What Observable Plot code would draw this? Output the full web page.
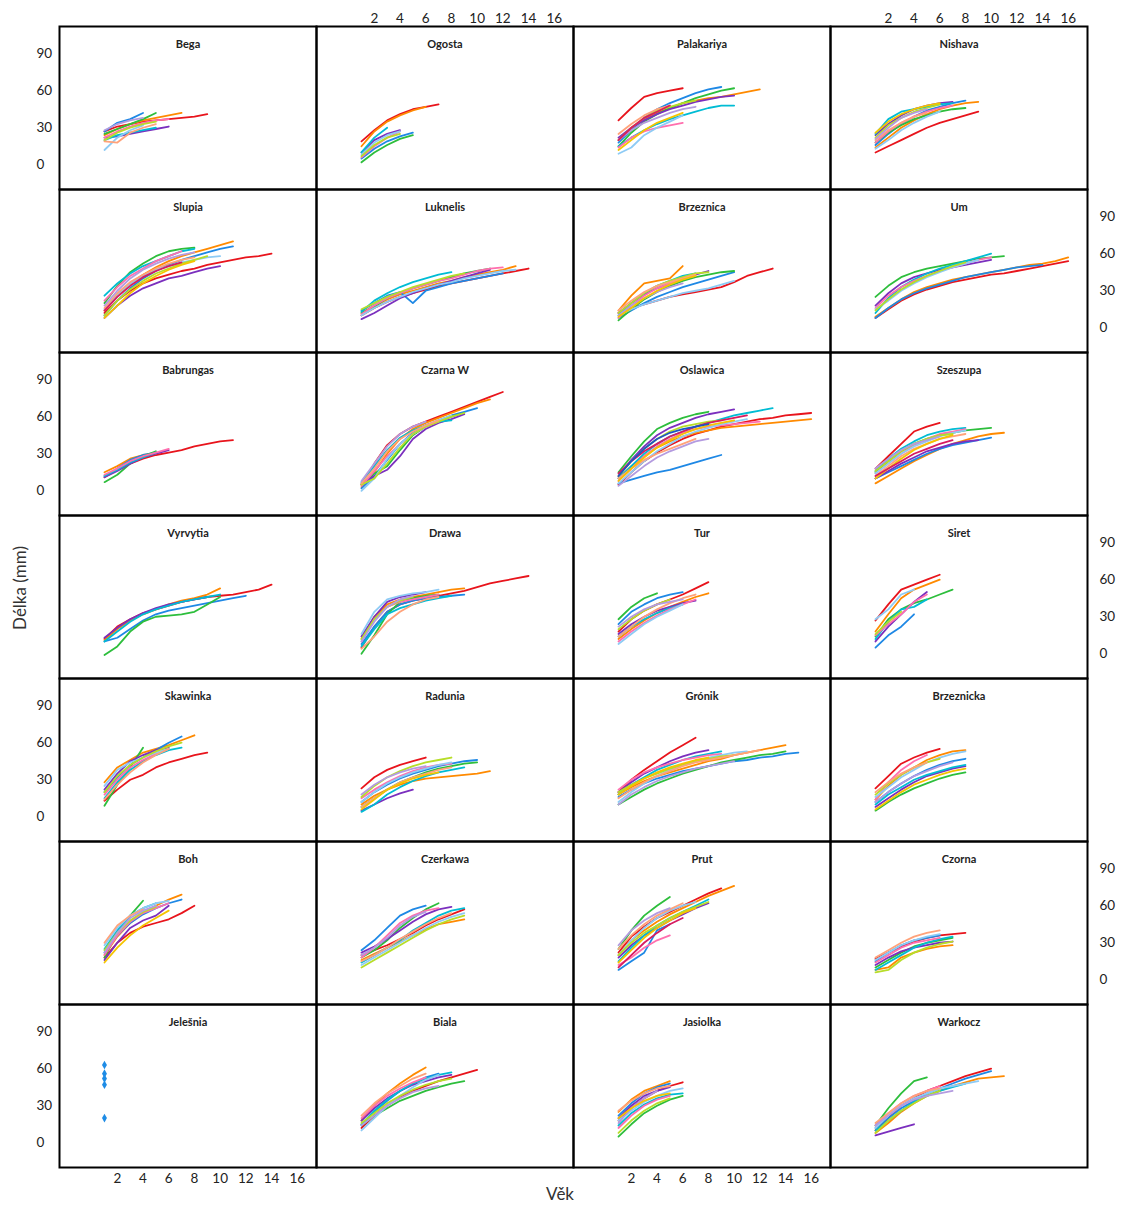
<!DOCTYPE html>
<html>
<head>
<meta charset="utf-8">
<script src="https://cdn.jsdelivr.net/npm/d3@7"></script>
<script src="https://cdn.jsdelivr.net/npm/@observablehq/plot@0.6"></script>
<style>
  html, body { margin: 0; padding: 0; background: #fff; }
  #wrap { position: relative; width: 1123px; height: 1209px; font-family: Lato, "Open Sans", sans-serif; }
  .axlab { position: absolute; font-size: 17px; line-height: 20px; color: #333; white-space: nowrap; }
  #ylab { left: 20px; top: 588px; transform: translate(-50%, -50%) rotate(-90deg); }
  #xlab { left: 560px; top: 1194px; transform: translate(-50%, -50%); }
</style>
</head>
<body>
<div id="wrap">
  <div id="chart"></div>
  <div class="axlab" id="ylab">Délka (mm)</div>
  <div class="axlab" id="xlab">Věk</div>
</div>
<script>
// ---- panel names (row-major, 7 rows x 4 columns) ----
const panelNames = [
  "Bega", "Ogosta", "Palakariya", "Nishava",
  "Slupia", "Luknelis", "Brzeznica", "Um",
  "Babrungas", "Czarna W", "Oslawica", "Szeszupa",
  "Vyrvytia", "Drawa", "Tur", "Siret",
  "Skawinka", "Radunia", "Grónik", "Brzeznicka",
  "Boh", "Czerkawa", "Prut", "Czorna",
  "Jelešnia", "Biala", "Jasiolka", "Warkocz"
];

// ---- tick labels ----
const xTicks = [2, 4, 6, 8, 10, 12, 14, 16];
const yTicks = [0, 30, 60, 90];

// ---- growth curves: length (mm) at age 1, 2, 3, ... ----
const bega = [[27,31,33,35,36,37,38,39,41],[24,29,33,36,38,40,42],[27,34,37,42],[25,29,33,37,42],[22,23,25,27,29,31],[20,24,26,28,30],[22,27,31,34,36,37],[12,22,28,32],[20,26,30,33,35],[19,18,26,30,33],[28,33,36,38]];
const ogosta = [[19,28,36,41,45,47,49],[15,27,35,40,44,47],[5,13,19,23,26],[2,10,16,21,24],[10,20,25,28],[10,22,30],[6,15,22,27],[8,18,24,27],[7,16,22,25]];
const palakariya = [[36,46,55,58,60,62],[20,30,37,42,46,50,52,54,55,57,59,61],[18,28,38,45,50,54,58,61,63],[15,26,35,41,46,50,54,57,60,62],[22,30,36,41,45,48,51,53,55,56],[15,22,28,33,37,40,43,46,48,48],[14,22,27,30,32,34],[9,14,24,30,35,40],[20,30,38,44,47,50,52],[25,33,40,45,48],[20,28,34,38,42,45,47],[12,20,28,34,38,42],[20,30,38,43,48]];
const nishava = [[10,15,20,25,30,34,37,40,43],[14,22,30,36,41,45,48,50,51],[16,25,33,39,44,47,50,52],[18,26,32,37,40,43,45,46],[24,33,40,45,48,50,51],[25,37,43,45,47,49,50],[18,27,34,39,43,46,48],[13,20,28,34,39,43],[22,32,38,43,46,49],[20,28,34,39,42],[21,30,38,42,45],[26,35,41,45,48,50]];
const slupia = [[12,22,30,36,40,43,46,48,51,53,55,57,58,60],[14,26,36,43,49,54,58,61,64,67,70],[10,22,32,40,46,51,55,58,61,64,66],[20,34,45,52,58,62,64,65],[8,18,26,32,36,40,42,45,48,50],[26,36,44,50,54,58,62,64],[22,33,42,48,54,58,62],[15,27,36,42,47,50,53,55,57,58],[10,22,31,38,44,48,52,55,58],[16,28,37,43,48,52,55,57],[18,30,40,47,52,56,59,61],[8,18,28,36,42,47,51,54],[14,25,34,41,46,50,53]];
const luknelis = [[10,16,21,25,28,31,34,36,38,40,42,44,46,48],[12,18,23,27,30,33,36,38,41,43,45,47,50],[14,20,26,29,20,30,33,36,38,40,42,44],[12,17,24,28,32,35,38,41,44,46,48],[7,12,18,24,28,32,35,38,41,44,47],[13,22,28,33,37,40,43,45],[11,18,24,28,32,35,38,40,43,46,48,49],[10,16,21,25,29,32,35,37,40,42,44,46,47],[15,20,25,29,33,36,39,42,44]];
const brzeznica = [[12,16,19,22,25,27,29,31,33,37,42,45,48],[14,26,36,38,40,50],[8,14,20,25,29,33,36,39,42,45],[6,15,23,29,34,38,41,43,45,46],[12,20,27,32,36,40,43,46],[10,20,28,34,38,42,44],[8,18,26,32,36,40,42],[10,15,19,22,25,28,30,32,35,38],[12,20,28,34,38,41,44,45],[14,22,29,34,37,40,43],[10,18,24,29,33,36],[9,16,24,30,35,39,42]];
const um = [[8,15,22,27,31,34,37,39,41,43,44,46,48,50,52,54],[9,16,23,29,33,36,39,41,43,45,47,49,51,52,54,57],[8,16,23,28,32,35,38,41,43,45,47,49,50,51],[25,34,41,45,48,50,52,54,56,57,58],[18,28,36,41,44,47,49,51,53,55],[12,24,33,39,44,48,51,54,57,60],[16,26,33,38,42,46,49,52,55,57],[15,22,30,36,41,45,49,52,55],[14,23,31,37,42,46,50,53]];
const babrungas = [[11,17,22,26,29,31,33,36,38,40,41],[15,20,26,29,30],[12,18,25,29,31],[7,13,22,28,32],[11,16,22,27,30,33],[12,17,23,27,31],[13,18,24,28,31,34]];
const czarnaW = [[5,22,37,46,52,56,60,64,68,72,76,80],[3,15,30,42,50,55,59,63,67,71,74],[2,12,25,38,47,53,57,61,64,67],[5,14,20,33,45,52,56,60,63],[6,12,17,28,42,50,55,58,62],[7,20,33,43,49,53,56,57],[4,16,28,38,46,52,56],[0,10,26,38,46,52,57,61],[5,10,22,35,46,52,56,60,63],[6,18,32,42,48,53,57],[8,22,36,46,52,56]];
const oslawica = [[5,15,24,31,37,42,46,49,52,54,56,58,59,61,62,63],[10,20,28,35,40,44,47,49,51,52,53,54,55,56,57,58],[6,9,12,15,17,20,23,26,29],[15,28,40,50,55,59,62,64],[12,25,36,45,51,55,59,62,64,66],[10,20,30,38,44,48,52,55,58,61,63,65,67],[8,18,28,36,42,47,50,52,53,54,55,56],[6,15,24,32,38,44,48,51,54,56,58],[12,24,34,42,48,52,54,56,57],[10,18,25,30,34,38,42],[4,12,20,27,32,36,40,42],[8,18,27,35,41,46,50,53,55,57],[14,24,32,38,44,48,52,55,57,59,61],[12,24,34,42,47,50,52,54]];
const szeszupa = [[18,28,38,48,52,55],[6,12,18,24,29,34,38,41,44,46,47],[10,15,20,25,30,34,37,39,41,43],[15,24,32,38,42,45,47,49,50,51],[10,16,22,27,32,35,38,40,41],[16,26,34,40,45,48,50,51],[14,22,30,37,42,46,48,50],[14,22,30,36,40,44,47,49],[16,24,32,38,42,45,46],[12,20,28,34,38,42,44,46],[18,26,33,38,41,44],[10,18,26,33,38,42,45],[12,18,24,30,34,38,41]];
const vyrvytia = [[12,22,28,33,36,39,42,44,46,47,48,50,52,56],[11,20,27,32,36,40,43,45,48,53],[10,13,20,27,32,35,37,39,41,43,45,47],[-1,6,18,26,30,31,32,34,40,46],[13,21,28,33,37,40,42,44,46],[10,18,26,32,36,39,42,44,46,48]];
const drawa = [[5,22,34,40,43,45,47,49,51,54,57,59,61,63],[12,30,40,44,46,48,50,52,53],[8,22,34,40,43,45,46,47,48],[0,15,32,42,45,47,48],[14,30,42,46,48,50],[6,20,32,37,40,43,45,47],[10,28,38,42,44,46,48],[16,34,44,47,49,50,52],[12,28,38,43,46],[4,14,26,34,40,44,46],[10,26,38,44,47]];
const tur = [[18,28,35,40,44,48,53,58],[12,20,27,33,38,42,46,49],[24,34,40,45,48,50],[28,38,45,49],[16,24,30,35,38,41,43],[14,22,28,33,37,40],[10,18,25,31,36,40,44],[8,16,24,30,35,40],[20,28,35,40,44],[14,22,30,36,41,45,48],[22,30,36,40,42,44]];
const siret = [[27,40,52,56,60,64],[18,32,45,52,56,60],[5,15,22,32],[14,28,36,41,44,48,52],[10,22,32,42,50],[12,26,36,38,44],[15,24,32,42,48],[28,36,48,52],[16,26,34]];
const skawinka = [[13,22,30,34,40,44,47,50,52],[28,40,46,52,55,58,62,66],[20,32,42,48,54,60,65],[9,26,40,56],[22,35,45,50,54,56],[15,28,38,45,50,54,56],[18,30,40,46,51,55],[25,38,44,48,52,55],[20,33,42,48,53,57,60],[14,26,36,44,50,55]];
const radunia = [[23,32,38,42,45,48],[10,17,22,26,29,31,32,33,34,35,37],[12,20,26,31,35,38,41,43,45,46],[8,15,22,28,32,36,39,41,43,44],[5,10,15,19,22],[4,10,18,24,29,33,36,38,40],[15,22,28,33,37,40,42,43],[12,20,27,32,36,39,42,44],[16,25,32,37,41,44,46,48],[8,15,22,28,32,35,38,40],[18,26,32,36,39,41],[6,14,22,27,31,34,36]];
const gronik = [[20,30,38,45,52,58,64],[18,24,29,33,36,39,42,45,47,50,52,54,56,58],[16,22,27,31,34,37,39,41,43,45,46,48,49,51,52],[10,16,22,27,31,35,38,41,44,46,48,50,51,53],[20,28,35,40,45,49,52,54],[18,26,32,38,42,46,49,51,53],[22,30,36,40,43,46,48,50,51],[12,20,27,33,38,42,45,48,50,52,53],[20,26,31,35,39,42,45,47,49,50],[15,22,28,33,37,41,44,46,48,50,52,54],[10,18,24,29,33,36,39,41,43,45],[18,25,31,36,40,43,46,48]];
const brzeznicka = [[23,33,43,48,52,55],[14,25,34,40,46,50,53,54],[12,20,27,33,38,42,45,47],[5,12,18,23,27,31,34,36],[8,15,22,28,33,36,39,41],[10,18,24,30,34,37,40,42],[14,28,38,45,50],[16,24,32,38,44,48,51,53],[18,27,34,40,44,47],[20,28,35,40,44],[12,20,27,33,37,41,44],[6,13,20,26,30,34,37,39]];
const boh = [[18,30,38,43,46,49,54,60],[20,35,46,54,60,65,69],[22,36,46,53,58,62,65],[18,38,52,64],[16,30,42,48,52,60],[25,40,52,58,62],[20,36,47,54,58,62],[28,42,52,58,62,64],[24,38,48,55,59],[30,44,52,57],[22,38,50,56,60],[14,26,36,44,50,56]];
const czerkawa = [[20,24,28,33,38,44,49,53,57],[16,21,26,31,36,41,45,47,49],[24,32,42,52,57,60],[18,24,32,42,50,57,62],[22,27,33,40,47,53,57,59],[14,20,26,32,40,46,52,56,58],[18,26,36,46,52,56,58],[12,18,24,30,36,42,47,51,54],[10,16,22,28,34,40,45,49,52],[15,20,26,33,39,45,50,54],[20,26,34,44,51,55]];
const prut = [[22,35,43,50,55,60,65,70,74],[20,32,40,47,53,58,63,68,72,76],[8,15,22,40,45],[25,40,52,60,67],[18,28,36,42,48,53,58,62],[15,26,36,44,50,55,60,65],[12,18,26,32,36],[20,32,42,50,56,60,63],[20,30,38,44,50,55,59,63],[25,36,45,52,57,62],[28,40,48,54,58],[14,24,34,42,48,54,58],[10,20,30,38,45,50]];
const czorna = [[17,22,27,31,34,36,37,38],[8,10,18,22,25,27,28],[15,22,28,32,34,36],[10,16,22,27,30,32,34],[12,18,23,26,28,30,31],[8,14,20,26,30,33,35],[14,20,26,30,32,34],[16,22,28,32,35,37],[6,8,16,22,26,29,31],[18,24,30,35,38,40]];
const jelesnia = [];
const biala = [[12,22,30,37,42,46,50,53,56,59],[18,30,40,48,55,61],[15,25,34,42,48,53,56],[14,22,28,34,38,42,45,48,50],[18,28,36,42,47,50,53,55],[15,26,35,42,48,52,55,57],[20,30,38,44,49,53],[10,20,30,38,45,51,55],[16,24,32,38,43,47,50,52],[22,32,40,46,52,56],[14,22,30,36,41,44,46]];
const jasiolka = [[18,28,36,42,46,49],[25,35,42,46,50],[22,32,40,45,48],[5,15,24,30,35,38],[20,30,38,42,45],[14,24,31,36,39,40],[12,22,30,35,38],[18,26,33,38,42,44],[8,18,26,32,36],[26,34,40,44,46],[16,28,36,42],[20,28,34,38,40]];
const warkocz = [[10,20,30,36,42,46,50,54,57,60],[8,16,25,32,38,42,46,49,52,53,54],[12,20,28,34,40,44,48,52,55,58],[14,28,40,50,53],[6,9,12,15],[10,18,26,33,38,42,45,48],[14,24,32,38,42,46],[12,22,30,36,40,44,46,48,50],[8,18,26,32,38,42],[16,24,32,38,42,44],[14,22,30,35,38,40,42]];

// Jelešnia: single-age observations
const jelesniaAges = [1, 1, 1, 1, 1];
const jelesniaLengths = [63, 56, 52, 47, 20];

const panelCurves = [
  bega, ogosta, palakariya, nishava,
  slupia, luknelis, brzeznica, um,
  babrungas, czarnaW, oslawica, szeszupa,
  vyrvytia, drawa, tur, siret,
  skawinka, radunia, gronik, brzeznicka,
  boh, czerkawa, prut, czorna,
  jelesnia, biala, jasiolka, warkocz
];

const palette = ["#e8141c","#ff8a00","#1e88e5","#2dbe3c","#7b2fbe","#00bcd4","#ff6fae","#8ecbf5",
                 "#b7dd29","#ffa27a","#b49be0","#f5c400","#d81b60","#1a56c4","#3cb371","#ff5722"];

// ---- build tidy tables ----
const rows = [];
panelCurves.forEach((curves, p) => {
  const col = p % 4, row = Math.floor(p / 4);
  curves.forEach((lens, i) => {
    lens.forEach((v, a) => rows.push({col, row, id: p * 100 + i, cid: i % palette.length, age: a + 1, len: v}));
  });
});
const jelPoints = jelesniaAges.map((a, i) => ({col: 0, row: 6, age: a, len: jelesniaLengths[i]}));
const titles = panelNames.map((name, p) => ({col: p % 4, row: Math.floor(p / 4), name}));

const leftTicks = [0, 2, 4, 6].flatMap(r => yTicks.map(v => ({col: 0, row: r, v})));
const rightTicks = [1, 3, 5].flatMap(r => yTicks.map(v => ({col: 3, row: r, v})));
const topTicks = [1, 3].flatMap(c => xTicks.map(v => ({col: c, row: 0, v})));
const bottomTicks = [0, 2].flatMap(c => xTicks.map(v => ({col: c, row: 6, v})));

const tickStyle = {fontSize: 13.5, fill: "#222"};

const chart = Plot.plot({
  width: 1123,
  height: 1209,
  marginTop: 26,
  marginBottom: 42,
  marginLeft: 57,
  marginRight: 35,
  style: {fontFamily: "Lato, 'Open Sans', sans-serif", background: "#fff"},
  x: {domain: [-2.5, 17.5], axis: null},
  y: {domain: [-20, 112], axis: null},
  fx: {domain: [0, 1, 2, 3], axis: null, padding: 0},
  fy: {domain: d3.range(7), axis: null, padding: 0},
  color: {type: "ordinal", domain: d3.range(palette.length), range: palette},
  marks: [
    Plot.line(rows, {x: "age", y: "len", z: "id", stroke: "cid", fx: "col", fy: "row", strokeWidth: 1.8, strokeLinejoin: "round", strokeLinecap: "round"}),
    Plot.dot(jelPoints, {x: "age", y: "len", fx: "col", fy: "row", symbol: "diamond", r: 2.6, fill: "#1e8ce6", stroke: "none"}),
    Plot.text(titles, {fx: "col", fy: "row", text: "name", frameAnchor: "top", dy: 14, fontWeight: "bold", fontSize: 11, fill: "#222"}),
    Plot.text(leftTicks, {fx: "col", fy: "row", y: "v", text: d => String(d.v), frameAnchor: "left", dx: -23, textAnchor: "start", ...tickStyle}),
    Plot.text(rightTicks, {fx: "col", fy: "row", y: "v", text: d => String(d.v), frameAnchor: "right", dx: 12, textAnchor: "start", ...tickStyle}),
    Plot.text(topTicks, {fx: "col", fy: "row", x: "v", text: d => String(d.v), frameAnchor: "top", dy: -13, ...tickStyle}),
    Plot.text(bottomTicks, {fx: "col", fy: "row", x: "v", text: d => String(d.v), frameAnchor: "bottom", dy: 15, ...tickStyle}),
    Plot.frame({stroke: "#000", strokeWidth: 2})
  ]
});
document.getElementById("chart").appendChild(chart);
</script>
</body>
</html>
